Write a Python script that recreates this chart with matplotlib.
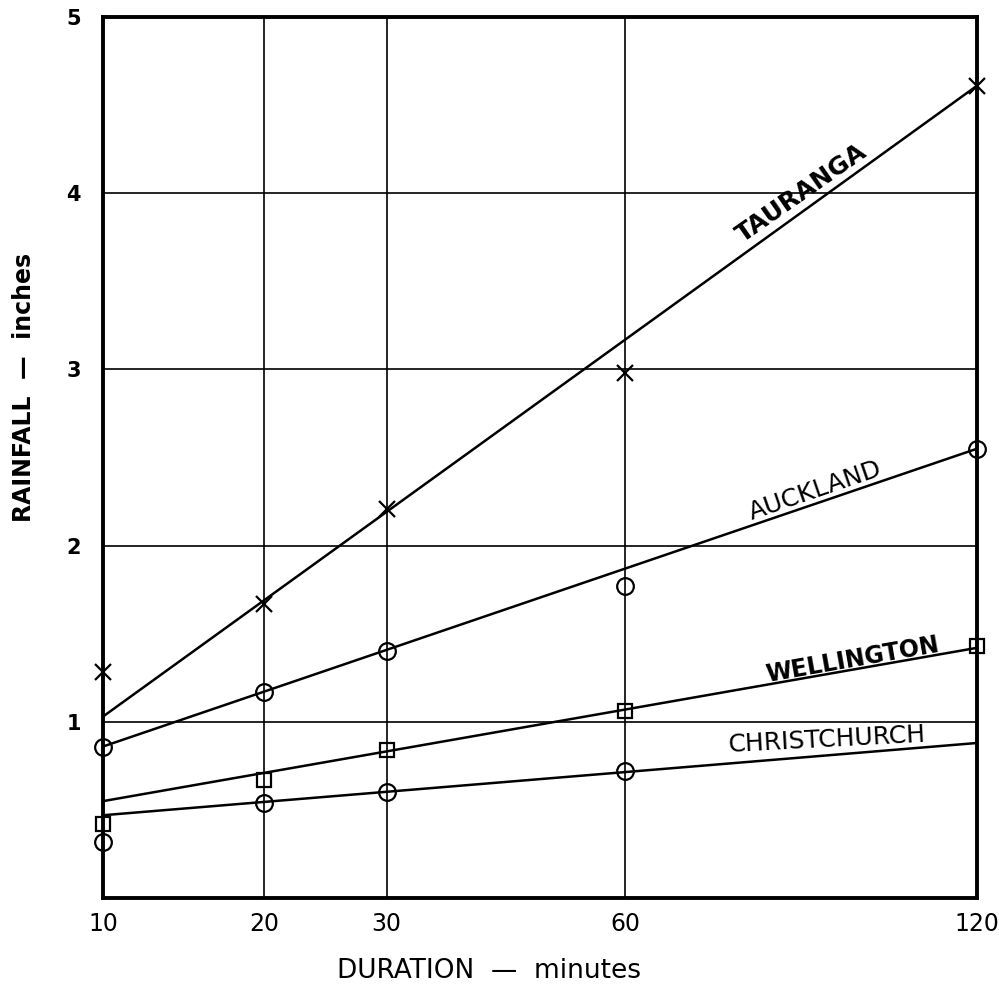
import numpy as np
import matplotlib.pyplot as plt

# durations (minutes) and observed rainfall (inches)
durations = [10, 20, 30, 60, 120]
tauranga = [1.28, 1.67, 2.21, 2.98, 4.61]
auckland = [0.86, 1.17, 1.40, 1.77, 2.55]
wellington = [0.42, 0.67, 0.84, 1.06, 1.43]
christ_dur = [10, 20, 30, 60]
christchurch = [0.32, 0.54, 0.60, 0.72]

# fitted straight lines, values at 10 and 120 minutes
fit_dur = [10, 120]
tauranga_fit = [1.03, 4.61]
auckland_fit = [0.86, 2.55]
wellington_fit = [0.55, 1.42]
christchurch_fit = [0.47, 0.88]

# the duration axis of the original graph paper (relative positions of the ticks)
x_ticks = [10, 20, 30, 60, 120]
x_pos = [0, 161, 284, 523, 875]


def fwd(x):
    return np.interp(x, x_ticks, x_pos, left=np.nan, right=np.nan)


def inv(p):
    return np.interp(p, x_pos, x_ticks)


fig = plt.figure(figsize=(9.99, 9.92), dpi=100)
ax = fig.add_axes([0.1031, 0.0947, 0.8749, 0.8882])
ax.set_xscale('function', functions=(fwd, inv))
ax.set_xlim(10, 120)
ax.set_ylim(0, 5)

for v in [20, 30, 60]:
    ax.axvline(v, color='black', lw=1.2, zorder=1)
for v in [1, 2, 3, 4]:
    ax.axhline(v, color='black', lw=1.2, zorder=1)

lk = dict(color='black', lw=1.8, zorder=2)
ax.plot(fit_dur, tauranga_fit, **lk)
ax.plot(fit_dur, auckland_fit, **lk)
ax.plot(fit_dur, wellington_fit, **lk)
ax.plot(fit_dur, christchurch_fit, **lk)

mk = dict(ls='none', color='black', mfc='none', mew=1.6, zorder=3, clip_on=False)
ax.plot(durations, tauranga, marker='x', ms=11, **mk)
ax.plot(durations, auckland, marker='o', ms=12, **mk)
ax.plot(durations, wellington, marker='s', ms=10, **mk)
ax.plot(christ_dur, christchurch, marker='o', ms=12, **mk)

# labels along the lines
tk = dict(ha='center', va='center', rotation_mode='anchor')
ax.text(90, 4.0, 'TAURANGA', rotation=35, fontsize=18, fontweight='bold', **tk)
ax.text(92.4, 2.31, 'AUCKLAND', rotation=19, fontsize=18, **tk)
ax.text(98.7, 1.35, 'WELLINGTON', rotation=10, fontsize=17, fontweight='bold', **tk)
ax.text(94.4, 0.90, 'CHRISTCHURCH', rotation=3, fontsize=18, **tk)

ax.set_xticks(x_ticks)
ax.set_xticklabels([str(v) for v in x_ticks], fontsize=17)
ax.set_yticks([1, 2, 3, 4, 5])
ax.set_yticklabels(['1', '2', '3', '4', '5'], fontsize=15, fontweight='bold')
ax.tick_params(axis='x', length=0, pad=10)
ax.tick_params(axis='y', length=0, pad=16)

ax.set_xlabel('DURATION  \u2014  minutes', fontsize=19)
ax.xaxis.set_label_coords(0.442, -0.068)
ax.set_ylabel('RAINFALL  \u2014  inches', fontsize=17, fontweight='bold')
ax.yaxis.set_label_coords(-0.077, 0.579)

for s in ax.spines.values():
    s.set_linewidth(2.8)

fig.savefig('out.png', dpi=100)
